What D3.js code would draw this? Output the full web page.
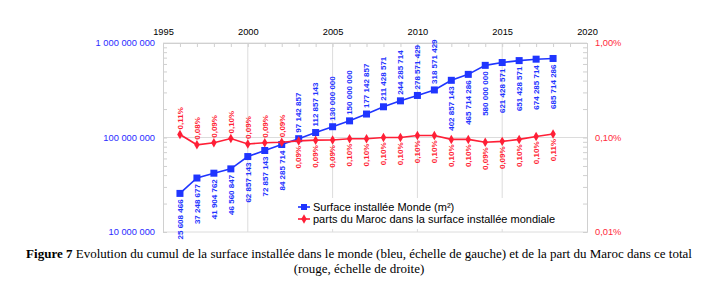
<!DOCTYPE html>
<html>
<head>
<meta charset="utf-8">
<script src="https://cdn.jsdelivr.net/npm/d3@7"></script>
<style>
  body { margin: 0; background: #fff; }
  text { font-family: "Liberation Sans", Arial, sans-serif; }
</style>
</head>
<body>
<div id="chart"></div>
<script>

// data
var years = [1996, 1997, 1998, 1999, 2000, 2001, 2002, 2003, 2004, 2005, 2006, 2007,
             2008, 2009, 2010, 2011, 2012, 2013, 2014, 2015, 2016, 2017, 2018];
var surface = [25608466, 37248677, 41904762, 46560847, 62857143, 72857143, 84285714,
               97142857, 112857143, 130000000, 150000000, 177142857, 211428571,
               244285714, 278571429, 318571429, 402857143, 465714286, 580000000,
               621428571, 651428571, 674285714, 685714286];
// part du Maroc, in %
var partMaroc = [0.1076, 0.0837, 0.088, 0.0976, 0.0855, 0.088, 0.089, 0.092, 0.0937,
                 0.094, 0.097, 0.097, 0.1, 0.1, 0.105, 0.105, 0.0955, 0.0955, 0.089,
                 0.091, 0.0955, 0.1025, 0.109];
var yearTicks = [1995, 2000, 2005, 2010, 2015, 2020];
var leftTicks = [1e7, 1e8, 1e9];
var rightTicks = [0.01, 0.1, 1];
var legendLabels = ["Surface installée Monde (m²)",
                    "parts du Maroc dans la surface installée mondiale"];
var captionBold = "Figure 7";
var captionLine1 = " Evolution du cumul de la surface installée dans le monde (bleu, échelle de gauche) et de la part du Maroc dans ce total";
var captionLine2 = "(rouge, échelle de droite)";

var blue = "#1f35ff";
var red = "#ff1f36";

var width = 718, height = 297;
var pLeft = 163, pRight = 587, pTop = 43, pBottom = 232;

var svg = d3.select("#chart")
  .append("svg")
    .attr("width", width)
    .attr("height", height);

var x = d3.scaleLinear().domain([1995, 2020]).range([pLeft, pRight]);
var yL = d3.scaleLog().domain([1e7, 1e9]).range([pBottom, pTop]);
var yR = d3.scaleLog().domain([0.01, 1]).range([pBottom, pTop]);

var fr = d3.formatLocale({decimal: ",", thousands: " ", grouping: [3], currency: ["", ""]});
var fmtNum = fr.format(",d");
function fmtPct(v) { return v.toFixed(2).replace(".", ",") + "%"; }

var rows = years.map(function(d, i) {
  return {year: d, s: surface[i], p: partMaroc[i]};
});

// gridlines
svg.append("g")
  .selectAll("line")
  .data(yearTicks.slice(1, -1))
  .enter().append("line")
    .attr("x1", function(d) { return x(d); })
    .attr("x2", function(d) { return x(d); })
    .attr("y1", pTop).attr("y2", pBottom)
    .style("stroke", "#dcdcdc");
svg.append("g")
  .selectAll("line")
  .data(leftTicks)
  .enter().append("line")
    .attr("x1", pLeft).attr("x2", pRight)
    .attr("y1", function(d) { return yL(d); })
    .attr("y2", function(d) { return yL(d); })
    .style("stroke", "#dcdcdc");

// minor log ticks
var minorL = [];
[1e7, 1e8].forEach(function(b) { for (var k = 2; k < 10; k++) minorL.push(b * k); });
var minorR = minorL.map(function(v) { return v / 1e9; });

// left axis
var gL = svg.append("g")
  .attr("transform", "translate(" + pLeft + ",0)")
  .call(d3.axisLeft(yL).tickValues(leftTicks).tickFormat(fmtNum).tickSize(0).tickPadding(8));
svg.append("g")
  .attr("transform", "translate(" + pLeft + ",0)")
  .call(d3.axisLeft(yL).tickValues(minorL.concat(leftTicks)).tickFormat("").tickSize(-4).tickSizeOuter(0));

// right axis
var gR = svg.append("g")
  .attr("transform", "translate(" + pRight + ",0)")
  .call(d3.axisRight(yR).tickValues(rightTicks).tickFormat(function(d) { return fmtPct(d); }).tickSize(0).tickPadding(8));
svg.append("g")
  .attr("transform", "translate(" + pRight + ",0)")
  .call(d3.axisRight(yR).tickValues(minorR.concat(rightTicks)).tickFormat("").tickSize(-4).tickSizeOuter(0));

// top axis
var gT = svg.append("g")
  .attr("transform", "translate(0," + pTop + ")")
  .call(d3.axisTop(x).tickValues(yearTicks).tickFormat(d3.format("d")).tickSize(0).tickPadding(8));
svg.append("g")
  .attr("transform", "translate(0," + pTop + ")")
  .call(d3.axisTop(x).tickValues(d3.range(1995, 2021)).tickFormat("").tickSize(-4).tickSizeOuter(0));

svg.selectAll(".domain").style("stroke", "#d0d0d0");
svg.selectAll(".tick line").style("stroke", "#d0d0d0");
gL.selectAll("text").style("fill", "#2b2bff").style("font-size", "9.3px");
gR.selectAll("text").style("fill", "#ff2a3a").style("font-size", "9.3px");
gT.selectAll("text").style("fill", "#000").style("font-size", "9.3px");

// legend box (covers gridlines)
svg.append("rect")
  .attr("x", 294).attr("y", 198)
  .attr("width", 272).attr("height", 31)
  .style("fill", "#fff");

// blue series
var lineS = d3.line()
  .x(function(d) { return x(d.year); })
  .y(function(d) { return yL(d.s); });
svg.append("path")
  .datum(rows)
  .attr("d", lineS)
  .style("fill", "none")
  .style("stroke", blue)
  .style("stroke-width", 1.6);
svg.append("g")
  .selectAll("rect")
  .data(rows)
  .enter().append("rect")
    .attr("x", function(d) { return x(d.year) - 3.5; })
    .attr("y", function(d) { return yL(d.s) - 3.5; })
    .attr("width", 7).attr("height", 7)
    .style("fill", blue);

// red series
var lineP = d3.line()
  .x(function(d) { return x(d.year); })
  .y(function(d) { return yR(d.p); });
svg.append("path")
  .datum(rows)
  .attr("d", lineP)
  .style("fill", "none")
  .style("stroke", red)
  .style("stroke-width", 1.6);
var diamond = d3.symbol().type(d3.symbolDiamond).size(26);
svg.append("g")
  .selectAll("path")
  .data(rows)
  .enter().append("path")
    .attr("d", diamond)
    .attr("transform", function(d) { return "translate(" + x(d.year) + "," + yR(d.p) + ")"; })
    .style("fill", red);

// value labels (rotated)
function blueAbove(d) { return d.year >= 2003 && d.year <= 2011; }
svg.append("g")
  .selectAll("text")
  .data(rows)
  .enter().append("text")
    .attr("transform", function(d) {
      var yy = blueAbove(d) ? yL(d.s) - 6 : yL(d.s) + 6;
      return "translate(" + x(d.year) + "," + yy + ") rotate(-90)";
    })
    .attr("text-anchor", function(d) { return blueAbove(d) ? "start" : "end"; })
    .attr("dy", "0.35em")
    .style("font-size", "8px")
    .style("font-weight", "bold")
    .style("fill", blue)
    .text(function(d) { return fmtNum(d.s); });

function redAbove(d) { return d.year <= 2002; }
svg.append("g")
  .selectAll("text")
  .data(rows)
  .enter().append("text")
    .attr("transform", function(d) {
      var yy = redAbove(d) ? yR(d.p) - 5 : yR(d.p) + 5;
      return "translate(" + x(d.year) + "," + yy + ") rotate(-90)";
    })
    .attr("text-anchor", function(d) { return redAbove(d) ? "start" : "end"; })
    .attr("dy", "0.35em")
    .style("font-size", "8px")
    .style("font-weight", "bold")
    .style("fill", red)
    .text(function(d) { return fmtPct(d.p); });

// legend
var legend = svg.append("g");
[blue, red].forEach(function(c, i) {
  var ly = 207 + i * 12;
  legend.append("line")
    .attr("x1", 298).attr("x2", 310)
    .attr("y1", ly).attr("y2", ly)
    .style("stroke", c).style("stroke-width", 1.6);
  if (i === 0) {
    legend.append("rect").attr("x", 301).attr("y", ly - 3)
      .attr("width", 6).attr("height", 6).style("fill", c);
  } else {
    legend.append("path").attr("d", diamond)
      .attr("transform", "translate(304," + ly + ")").style("fill", c);
  }
  legend.append("text")
    .attr("x", 313).attr("y", ly)
    .attr("dy", "0.35em")
    .style("font-size", "11px")
    .style("fill", "#000")
    .text(legendLabels[i]);
});

// caption
var cap = svg.append("text")
  .attr("x", width / 2).attr("y", 258)
  .attr("text-anchor", "middle")
  .style("font-family", "'Liberation Serif', 'Times New Roman', serif")
  .style("font-size", "13px")
  .style("fill", "#000");
cap.append("tspan").style("font-weight", "bold").text(captionBold);
cap.append("tspan").text(captionLine1);
svg.append("text")
  .attr("x", width / 2).attr("y", 273)
  .attr("text-anchor", "middle")
  .style("font-family", "'Liberation Serif', 'Times New Roman', serif")
  .style("font-size", "13px")
  .style("fill", "#000")
  .text(captionLine2);

</script>
</body>
</html>
